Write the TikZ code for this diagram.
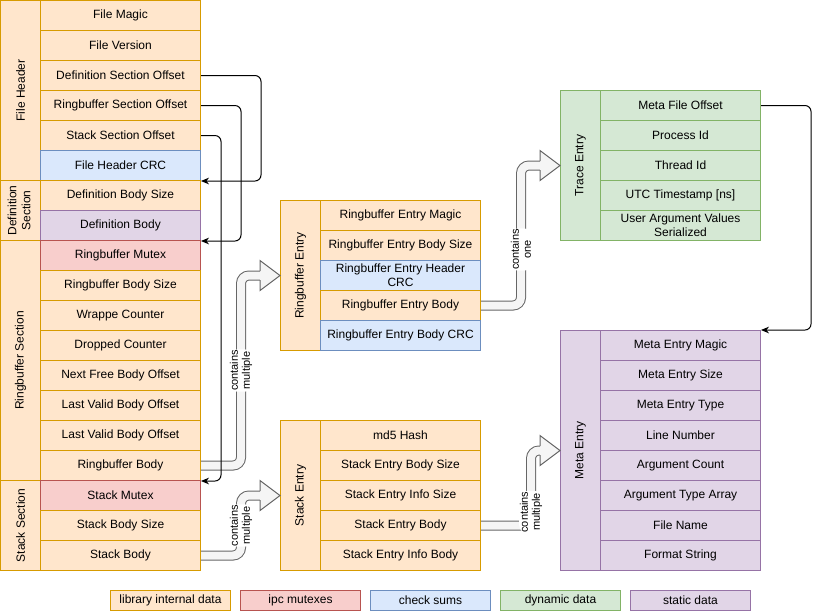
\documentclass[tikz,border=0pt]{standalone}
\usepackage{fontspec}
\setmainfont{Liberation Sans}
\usepackage{graphicx}
\usetikzlibrary{arrows.meta}
\definecolor{libfill}{HTML}{FFE6CC}
\definecolor{libline}{HTML}{D79B00}
\definecolor{mtxfill}{HTML}{F8CECC}
\definecolor{mtxline}{HTML}{B85450}
\definecolor{crcfill}{HTML}{DAE8FC}
\definecolor{crcline}{HTML}{6C8EBF}
\definecolor{dynfill}{HTML}{D5E8D4}
\definecolor{dynline}{HTML}{82B366}
\definecolor{stafill}{HTML}{E1D5E7}
\definecolor{staline}{HTML}{9673A6}
\definecolor{fatfill}{HTML}{F5F5F5}
\definecolor{fatline}{HTML}{666666}
\newcommand{\stacked}[1]{\begin{tabular}{@{}c@{}}#1\end{tabular}}

\begin{document}
\begin{tikzpicture}[x=0.75pt,y=-0.75pt,line width=0.75pt,
  font=\fontsize{9}{10.5}\selectfont,
  cell/.style={minimum width=120pt,minimum height=22.5pt,inner sep=0pt,align=center},
  strip/.style={minimum width=30pt,inner sep=0pt},
  key/.style={minimum width=90pt,minimum height=15pt,inner sep=0pt},
  lib/.style={draw=libline,fill=libfill},
  mtx/.style={draw=mtxline,fill=mtxfill},
  crc/.style={draw=crcline,fill=crcfill},
  dyn/.style={draw=dynline,fill=dynfill},
  sta/.style={draw=staline,fill=stafill},
  tag/.style={fill=white,rotate=90,align=center,inner sep=0.5pt,font=\fontsize{8.25}{9}\selectfont},
  ptr/.style={-{Stealth[length=6pt,width=5pt]},rounded corners=4.5pt},
  fatshaft/.style={draw=fatline,double=fatfill,double distance=6pt,rounded corners=6pt},
  fathead/.style={draw=fatline,fill=fatfill,line join=miter}]
\useasboundingbox (-0.5,-0.5) rectangle (819.5,611.5);

% file header
\node[strip,lib,minimum height=135pt] (fhead) at (20,90) {\rotatebox{90}{File Header}};
\node[cell,lib] (fmagic) at (120,15) {File Magic};
\node[cell,lib] (fversion) at (120,45) {File Version};
\node[cell,lib] (defoff) at (120,75) {Definition Section Offset};
\node[cell,lib] (rboff) at (120,105) {Ringbuffer Section Offset};
\node[cell,lib] (stkoff) at (120,135) {Stack Section Offset};
\node[cell,crc] (fhcrc) at (120,165) {File Header CRC};

% definition section
\node[strip,lib,minimum height=45pt] (defsec) at (20,210) {\rotatebox{90}{\stacked{Definition\\Section}}};
\node[cell,lib] (defsize) at (120,195) {Definition Body Size};
\node[cell,sta] (defbody) at (120,225) {Definition Body};

% ringbuffer section
\node[strip,lib,minimum height=180pt] (rbsec) at (20,360) {\rotatebox{90}{Ringbuffer Section}};
\node[cell,mtx] (rbmutex) at (120,255) {Ringbuffer Mutex};
\node[cell,lib] (rbsize) at (120,285) {Ringbuffer Body Size};
\node[cell,lib] (wrap) at (120,315) {Wrappe Counter};
\node[cell,lib] (dropped) at (120,345) {Dropped Counter};
\node[cell,lib] (nextfree) at (120,375) {Next Free Body Offset};
\node[cell,lib] (lastvalid) at (120,405) {Last Valid Body Offset};
\node[cell,lib] (lastvalidb) at (120,435) {Last Valid Body Offset};
\node[cell,lib] (rbbody) at (120,465) {Ringbuffer Body};

% stack section
\node[strip,lib,minimum height=67.5pt] (stksec) at (20,525) {\rotatebox{90}{Stack Section}};
\node[cell,mtx] (stkmutex) at (120,495) {Stack Mutex};
\node[cell,lib] (stksize) at (120,525) {Stack Body Size};
\node[cell,lib] (stkbody) at (120,555) {Stack Body};

% ringbuffer entry
\node[strip,lib,minimum height=112.5pt] (rbentry) at (300,275) {\rotatebox{90}{Ringbuffer Entry}};
\node[cell,lib] (remagic) at (400,215) {Ringbuffer Entry Magic};
\node[cell,lib] (resize) at (400,245) {Ringbuffer Entry Body Size};
\node[cell,crc] (rehcrc) at (400,275) {Ringbuffer Entry Header\\CRC};
\node[cell,lib] (rebody) at (400,305) {Ringbuffer Entry Body};
\node[cell,crc] (rebcrc) at (400,335) {Ringbuffer Entry Body CRC};

% stack entry
\node[strip,lib,minimum height=112.5pt] (stkentry) at (300,495) {\rotatebox{90}{Stack Entry}};
\node[cell,lib] (md5) at (400,435) {md5 Hash};
\node[cell,lib] (sesize) at (400,465) {Stack Entry Body Size};
\node[cell,lib] (seisize) at (400,495) {Stack Entry Info Size};
\node[cell,lib] (sebody) at (400,525) {Stack Entry Body};
\node[cell,lib] (seibody) at (400,555) {Stack Entry Info Body};

% trace entry
\node[strip,dyn,minimum height=112.5pt] (trace) at (580,165) {\rotatebox{90}{Trace Entry}};
\node[cell,dyn] (metaoff) at (680,105) {Meta File Offset};
\node[cell,dyn] (pid) at (680,135) {Process Id};
\node[cell,dyn] (tid) at (680,165) {Thread Id};
\node[cell,dyn] (utc) at (680,195) {UTC Timestamp [ns]};
\node[cell,dyn] (uargs) at (680,225) {User Argument Values\\Serialized};

% meta entry
\node[strip,sta,minimum height=180pt] (meta) at (580,450) {\rotatebox{90}{Meta Entry}};
\node[cell,sta] (mmagic) at (680,345) {Meta Entry Magic};
\node[cell,sta] (msize) at (680,375) {Meta Entry Size};
\node[cell,sta] (mtype) at (680,405) {Meta Entry Type};
\node[cell,sta] (mline) at (680,435) {Line Number};
\node[cell,sta] (margc) at (680,465) {Argument Count};
\node[cell,sta] (margt) at (680,495) {Argument Type Array};
\node[cell,sta] (mfile) at (680,525) {File Name};
\node[cell,sta] (mfmt) at (680,555) {Format String};

% containment arrows
\draw[fatshaft] (rbbody.east) -- ++(40,0) |- node[tag,pos=0.25] {contains\\multiple} ([xshift=-15pt]rbentry.west);
\path[fathead] (rbentry.west) ++(-20,4.5) -- ++(0,10.5) -- (rbentry.west) -- ++(-20,-15) -- ++(0,10.5);
\draw[fatshaft] (stkbody.east) -- ++(40,0) |- node[tag,pos=0.25] {contains\\multiple} ([xshift=-15pt]stkentry.west);
\path[fathead] (stkentry.west) ++(-20,4.5) -- ++(0,10.5) -- (stkentry.west) -- ++(-20,-15) -- ++(0,10.5);
\draw[fatshaft] (rebody.east) -- ++(40,0) |- node[tag,pos=0.2] {contains\\one} ([xshift=-15pt]trace.west);
\path[fathead] (trace.west) ++(-20,4.5) -- ++(0,10.5) -- (trace.west) -- ++(-20,-15) -- ++(0,10.5);
\draw[fatshaft] (sebody.east) -- ++(50,0) |- node[tag,pos=0.09] {contains\\multiple} ([xshift=-15pt]meta.west);
\path[fathead] (meta.west) ++(-20,4.5) -- ++(0,10.5) -- (meta.west) -- ++(-20,-15) -- ++(0,10.5);

% offset pointers
\draw[ptr] (defoff.east) -- ++(60,0) |- (fhcrc.south east);
\draw[ptr] (rboff.east) -- ++(40,0) |- (defbody.south east);
\draw[ptr] (stkoff.east) -- ++(20,0) |- (rbbody.south east);
\draw[ptr] (metaoff.east) -- ++(50,0) |- (mmagic.north east);

% legend
\node[key,lib] (klib) at (170,600) {library internal data};
\node[key,mtx] (kmtx) at (300,600) {ipc mutexes};
\node[key,crc] (kcrc) at (430,600) {check sums};
\node[key,dyn] (kdyn) at (560,600) {dynamic data};
\node[key,sta] (ksta) at (690,600) {static data};
\end{tikzpicture}
\end{document}
